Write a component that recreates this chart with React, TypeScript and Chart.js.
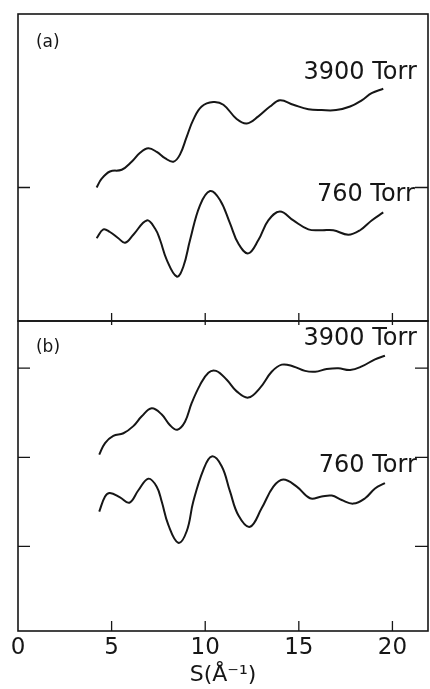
import React, { useEffect, useRef } from "react";
import { Chart, registerables } from "chart.js";

Chart.register(...registerables);

// ---------- data ----------
// Panel (a), 3900 Torr
const sA3900 = [4.2, 4.47, 4.91, 5.54, 6.07, 6.52, 6.96, 7.41, 7.85, 8.3, 8.65, 9.01, 9.36, 9.81, 10.43, 10.97, 11.68, 12.22, 12.84, 13.46, 13.99, 14.71, 15.51, 16.22, 16.99, 17.74, 18.36, 18.89, 19.51];
const yA3900 = [2.0, 2.1, 2.18, 2.2, 2.29, 2.39, 2.44, 2.4, 2.33, 2.29, 2.37, 2.57, 2.76, 2.91, 2.96, 2.93, 2.77, 2.72, 2.8, 2.91, 2.98, 2.93, 2.88, 2.87, 2.87, 2.91, 2.98, 3.06, 3.11];

// Panel (a), 760 Torr
const sA760 = [4.2, 4.56, 4.91, 5.36, 5.72, 6.16, 6.88, 7.32, 7.59, 7.94, 8.48, 8.83, 9.19, 9.72, 10.26, 10.79, 11.32, 11.77, 12.3, 12.84, 13.37, 13.99, 14.71, 15.51, 16.22, 16.84, 17.64, 18.27, 18.89, 19.51];
const yA760 = [1.43, 1.53, 1.5, 1.43, 1.38, 1.47, 1.63, 1.54, 1.41, 1.19, 1.0, 1.11, 1.41, 1.8, 1.96, 1.86, 1.6, 1.37, 1.26, 1.41, 1.63, 1.73, 1.63, 1.53, 1.52, 1.52, 1.47, 1.52, 1.63, 1.72];

// Panel (b), 3900 Torr
const sB3900 = [4.34, 4.65, 5.09, 5.63, 6.16, 6.61, 7.14, 7.68, 8.12, 8.51, 8.92, 9.28, 9.72, 10.17, 10.58, 11.15, 11.68, 12.3, 12.93, 13.55, 14.09, 14.71, 15.33, 15.87, 16.49, 17.11, 17.74, 18.36, 19.07, 19.6];
const yB3900 = [2.03, 2.16, 2.24, 2.27, 2.35, 2.46, 2.55, 2.48, 2.36, 2.31, 2.4, 2.61, 2.81, 2.95, 2.97, 2.87, 2.74, 2.67, 2.78, 2.96, 3.04, 3.02, 2.97, 2.96, 2.99, 3.0, 2.98, 3.02, 3.1, 3.14];

// Panel (b), 760 Torr
const sB760 = [4.34, 4.65, 4.91, 5.45, 5.95, 6.43, 6.96, 7.41, 7.68, 8.03, 8.56, 9.01, 9.36, 9.9, 10.35, 10.88, 11.32, 11.77, 12.39, 13.02, 13.64, 14.17, 14.89, 15.6, 16.22, 16.76, 17.29, 17.91, 18.54, 19.07, 19.6];
const yB760 = [1.39, 1.56, 1.6, 1.55, 1.49, 1.63, 1.76, 1.67, 1.5, 1.24, 1.04, 1.17, 1.5, 1.86, 2.01, 1.9, 1.62, 1.35, 1.22, 1.43, 1.67, 1.75, 1.67, 1.54, 1.56, 1.57, 1.52, 1.48, 1.54, 1.65, 1.71];

const xTickValues = [0, 5, 10, 15, 20];
const yTickValuesA = [2];
const yTickValuesB = [1, 2, 3];
const seriesNames = ["3900 Torr", "760 Torr"];
const panelNames = ["(a)", "(b)"];
const xTitle = "S(Å⁻¹)";

// ---------- styles ----------
const FONT = '"DejaVu Sans", "Liberation Sans", sans-serif';
const INK = "#161616";

const toPoints = (xs: number[], ys: number[]) => xs.map((x, i) => ({ x, y: ys[i] }));

const framePlugin = {
  id: "frame",
  afterDraw(chart: any, _args: any, opts: any) {
    const { ctx, chartArea } = chart;
    const xs = chart.scales.x;
    const ys = chart.scales.y;
    const { left, right, top, bottom } = chartArea;
    ctx.save();
    ctx.strokeStyle = INK;
    ctx.lineWidth = 1.6;
    ctx.strokeRect(left, top, right - left, bottom - top);
    // x ticks
    ctx.lineWidth = 1.3;
    for (const v of xTickValues) {
      if (v <= xs.min || v >= xs.max) continue;
      const px = xs.getPixelForValue(v);
      ctx.beginPath();
      ctx.moveTo(px, bottom - opts.xTickUp);
      ctx.lineTo(px, bottom + opts.xTickDown);
      ctx.stroke();
    }
    // y ticks (inward on both sides)
    for (const v of opts.yTicks as number[]) {
      const py = ys.getPixelForValue(v);
      ctx.beginPath();
      ctx.moveTo(left, py);
      ctx.lineTo(left + 12, py);
      ctx.moveTo(right, py);
      ctx.lineTo(right - 13, py);
      ctx.stroke();
    }
    // labels
    ctx.fillStyle = INK;
    ctx.textBaseline = "middle";
    for (const lb of opts.labels as any[]) {
      ctx.font = `${lb.weight} ${lb.size}px ${FONT}`;
      ctx.textAlign = lb.align;
      ctx.fillText(lb.text, xs.getPixelForValue(lb.x), ys.getPixelForValue(lb.y));
    }
    ctx.restore();
  },
};

function makeConfig(
  sets: { xs: number[]; ys: number[] }[],
  yMin: number,
  yMax: number,
  showX: boolean,
  pad: any,
  pluginOpts: any
): any {
  return {
    type: "line",
    data: {
      datasets: sets.map((d, i) => ({
        label: seriesNames[i],
        data: toPoints(d.xs, d.ys),
        borderColor: INK,
        borderWidth: 2,
        pointRadius: 0,
        fill: false,
        tension: 0.4,
      })),
    },
    options: {
      animation: false,
      responsive: false,
      devicePixelRatio: 1,
      layout: { padding: pad },
      plugins: {
        legend: { display: false },
        tooltip: { enabled: false },
        frame: pluginOpts,
      },
      scales: {
        x: {
          type: "linear",
          min: 0,
          max: 21.9,
          display: showX,
          afterBuildTicks: (s: any) => {
            s.ticks = xTickValues.map((v) => ({ value: v }));
          },
          afterFit: (s: any) => {
            if (showX) s.height = 58;
          },
          grid: { display: false, drawTicks: false },
          border: { display: false },
          ticks: {
            font: { family: FONT, size: 23, weight: "normal" },
            color: INK,
            padding: 3,
            maxRotation: 0,
            autoSkip: false,
          },
          title: {
            display: true,
            text: xTitle,
            color: INK,
            font: { family: FONT, size: 22, weight: "normal" },
            padding: { top: 0, bottom: 1 },
          },
        },
        y: {
          type: "linear",
          min: yMin,
          max: yMax,
          display: true,
          afterFit: (s: any) => {
            s.width = 18;
          },
          ticks: { display: false },
          grid: { display: false, drawTicks: false },
          border: { display: false },
        },
      },
    },
    plugins: [framePlugin],
  };
}

function Panel(props: { config: any; top: number; height: number }) {
  const ref = useRef<HTMLCanvasElement | null>(null);
  useEffect(() => {
    if (!ref.current) return;
    const chart = new Chart(ref.current, props.config);
    return () => chart.destroy();
  }, []);
  return (
    <canvas
      ref={ref}
      width={430}
      height={props.height}
      style={{ position: "absolute", left: 0, top: props.top, width: 430, height: props.height }}
    />
  );
}

const labelCfg = (text: string, x: number, y: number, align: string, size: number) => ({
  text,
  x,
  y,
  align,
  size,
  weight: "normal",
});

export default function App() {
  const configA = makeConfig(
    [
      { xs: sA3900, ys: yA3900 },
      { xs: sA760, ys: yA760 },
    ],
    0.5,
    3.95,
    false,
    { left: 0, top: 14, right: 2, bottom: 9 },
    {
      yTicks: yTickValuesA,
      xTickUp: 8,
      xTickDown: 4,
      labels: [
        labelCfg(panelNames[0], 0.96, 3.63, "left", 17),
        labelCfg(seriesNames[0], 21.3, 3.29, "right", 24),
        labelCfg(seriesNames[1], 21.2, 1.92, "right", 24),
      ],
    }
  );
  const configB = makeConfig(
    [
      { xs: sB3900, ys: yB3900 },
      { xs: sB760, ys: yB760 },
    ],
    0.05,
    3.53,
    true,
    { left: 0, top: 10, right: 2, bottom: 0 },
    {
      yTicks: yTickValuesB,
      xTickUp: 10,
      xTickDown: 0,
      labels: [
        labelCfg(panelNames[1], 0.96, 3.23, "left", 17),
        labelCfg(seriesNames[0], 21.3, 3.33, "right", 24),
        labelCfg(seriesNames[1], 21.3, 1.9, "right", 24),
      ],
    }
  );
  return (
    <div style={{ position: "absolute", left: 0, top: 0, width: 430, height: 689, background: "#fff", overflow: "hidden" }}>
      <Panel config={configA} top={0} height={330} />
      <Panel config={configB} top={311} height={378} />
    </div>
  );
}
